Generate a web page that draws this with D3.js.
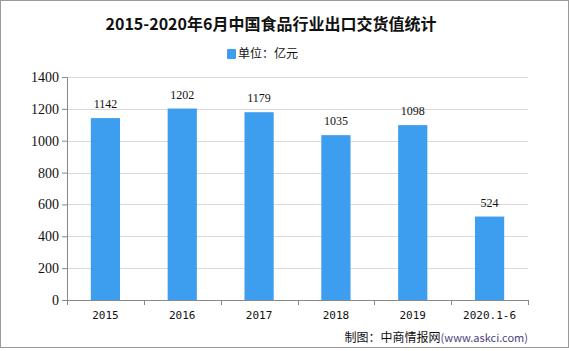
<!DOCTYPE html>
<html>
<head>
<meta charset="utf-8">
<script src="https://cdn.jsdelivr.net/npm/d3@7"></script>
<style>
  body { margin: 0; background: #fff; }
  svg { display: block; }
</style>
</head>
<body>
<div id="chart"></div>
<script>
// data
const categories = ["2015", "2016", "2017", "2018", "2019", "2020.1-6"];
const values = [1142, 1202, 1179, 1035, 1098, 524];
const yTicks = [0, 200, 400, 600, 800, 1000, 1200, 1400];

const width = 569, height = 351;
const margin = {top: 77, right: 41, bottom: 51, left: 67};

const svg = d3.select("#chart")
    .append("svg")
    .attr("width", width)
    .attr("height", height);

// outer frame
svg.append("rect")
    .attr("x", 0.5).attr("y", 0.5)
    .attr("width", width - 1).attr("height", 347)
    .attr("fill", "none")
    .attr("stroke", "#9a9a9a");

const innerW = width - margin.left - margin.right;
const innerH = height - margin.top - margin.bottom;

const g = svg.append("g")
    .attr("transform", `translate(${margin.left},${margin.top})`);

const x = d3.scaleBand()
    .domain(categories)
    .range([0, innerW])
    .paddingInner(0.62)
    .paddingOuter(0.31);

const xTickScale = d3.scaleBand()
    .domain(categories)
    .range([0, innerW]);

const y = d3.scaleLinear()
    .domain([0, 1400])
    .range([innerH, 0]);

// gridlines
g.append("g")
    .selectAll("line")
    .data(yTicks.filter(d => d > 0))
    .join("line")
    .attr("x1", 0).attr("x2", innerW)
    .attr("y1", d => Math.round(y(d)) + 0.5)
    .attr("y2", d => Math.round(y(d)) + 0.5)
    .attr("stroke", "#d9d9d9");

// bars
g.append("g")
    .selectAll("rect")
    .data(values)
    .join("rect")
    .attr("x", (d, i) => x(categories[i]))
    .attr("y", d => y(d))
    .attr("width", x.bandwidth())
    .attr("height", d => innerH - y(d))
    .attr("fill", "#3d9ef0");

// value labels
g.append("g")
    .selectAll("text")
    .data(values)
    .join("text")
    .attr("x", (d, i) => x(categories[i]) + x.bandwidth() / 2)
    .attr("y", d => y(d) - 10)
    .attr("text-anchor", "middle")
    .attr("font-family", "Liberation Serif, serif")
    .attr("font-size", 12)
    .attr("fill", "#111")
    .text(d => d);

// y axis
const yAxis = g.append("g")
    .call(d3.axisLeft(y).tickValues(yTicks).tickFormat(d3.format("d")).tickSize(5).tickPadding(3));
yAxis.select(".domain").attr("stroke", "#888");
yAxis.selectAll(".tick line").attr("stroke", "#888");
yAxis.selectAll("text")
    .attr("font-family", "Liberation Serif, serif")
    .attr("font-size", 14)
    .attr("fill", "#111");

// x axis with tick marks at band edges
const xAxis = g.append("g")
    .attr("transform", `translate(0,${innerH})`);
xAxis.append("line")
    .attr("x1", 0).attr("x2", innerW)
    .attr("y1", 0.5).attr("y2", 0.5)
    .attr("stroke", "#888");
xAxis.selectAll(".edge")
    .data(categories.concat(["end"]))
    .join("line")
    .attr("class", "edge")
    .attr("x1", (d, i) => Math.round(i * xTickScale.step()) + 0.5)
    .attr("x2", (d, i) => Math.round(i * xTickScale.step()) + 0.5)
    .attr("y1", 0).attr("y2", 5)
    .attr("stroke", "#888");
xAxis.selectAll("text")
    .data(categories)
    .join("text")
    .attr("x", d => xTickScale(d) + xTickScale.bandwidth() / 2)
    .attr("y", 19)
    .attr("text-anchor", "middle")
    .attr("font-family", "DejaVu Sans Mono, monospace")
    .attr("font-size", 11)
    .attr("fill", "#111")
    .text(d => d);

// title
svg.append("text")
    .attr("x", 271)
    .attr("y", 30)
    .attr("text-anchor", "middle")
    .attr("font-family", "Noto Sans CJK SC, serif")
    .attr("font-weight", "bold")
    .attr("font-size", 16)
    .attr("fill", "#111")
    .text("2015-2020年6月中国食品行业出口交货值统计");

// legend
svg.append("rect")
    .attr("x", 227).attr("y", 49)
    .attr("width", 9).attr("height", 10)
    .attr("rx", 1)
    .attr("fill", "#3d9ef0");
svg.append("text")
    .attr("x", 238).attr("y", 58)
    .attr("font-family", "Noto Sans CJK SC, sans-serif")
    .attr("font-size", 12)
    .attr("fill", "#111")
    .text("单位：亿元");

// source
const src = svg.append("text")
    .attr("x", 528).attr("y", 342)
    .attr("text-anchor", "end")
    .attr("font-family", "Noto Sans CJK SC, sans-serif")
    .attr("font-size", 12)
    .attr("fill", "#111");
src.append("tspan").text("制图：中商情报网");
src.append("tspan").attr("fill", "#4e3f7d").attr("font-size", 11).text("(www.askci.com)");
</script>
</body>
</html>
